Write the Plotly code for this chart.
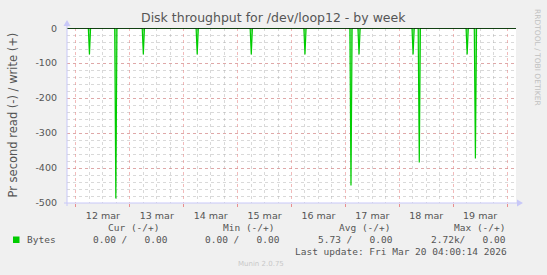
import plotly.graph_objects as go
from datetime import datetime, timedelta

# ---- data ----
range_start = "2026-03-11 20:00"
range_end = "2026-03-20 04:00"
# read samples (Bytes per second, read shown negative)
spike_times = [
    "2026-03-12 06:00", "2026-03-12 17:45", "2026-03-13 06:00", "2026-03-14 06:00",
    "2026-03-15 06:05", "2026-03-16 06:00", "2026-03-17 02:30", "2026-03-17 06:05",
    "2026-03-18 06:10", "2026-03-18 08:55", "2026-03-19 06:15", "2026-03-19 09:55",
]
spike_values = [-75, -487, -75, -75, -75, -75, -450, -75, -75, -384, -75, -373]
y_ticks = [0, -100, -200, -300, -400, -500]
legend_headers = ["Cur (-/+)", "Min (-/+)", "Avg (-/+)", "Max (-/+)"]
legend_values = ["0.00 /   0.00", "0.00 /   0.00", "5.73 /   0.00", "2.72k/   0.00"]
series_name = "Bytes"
last_update = "Last update: Fri Mar 20 04:00:14 2026"

# ---- build the line (zero baseline with spikes) ----
fmt = "%Y-%m-%d %H:%M"
half = timedelta(minutes=30)
xs = [range_start]
ys = [0]
for t, v in zip(spike_times, spike_values):
    d = datetime.strptime(t, fmt)
    xs += [(d - half).strftime(fmt), t, (d + half).strftime(fmt)]
    ys += [0, v, 0]
xs.append(range_end)
ys.append(0)

W, H = 547, 275
L, R, T, B = 67, 516, 28, 203

def px(x):
    return (x - L) / (R - L)

def py(y):
    return (B - y) / (B - T)

fig = go.Figure()
fig.add_trace(go.Scatter(x=xs, y=ys, mode="lines",
                         line=dict(color="#00cc00", width=1.2),
                         fill="tozeroy", fillcolor="rgba(0,204,0,0.45)",
                         hoverinfo="skip", showlegend=False))

grey = "#555555"
major_grid = "rgba(230,120,120,0.5)"
minor_grid = "rgba(170,170,170,0.45)"

fig.update_layout(
    width=W, height=H,
    margin=dict(l=L, r=W - R, t=T, b=H - B),
    paper_bgcolor="#f0f0f0", plot_bgcolor="#ffffff",
    showlegend=False,
    font=dict(family="DejaVu Sans", color=grey, size=9.5),
    xaxis=dict(
        type="date", range=[range_start, range_end],
        tick0="2026-03-12 00:00", dtick=86400000,
        tickformat="%d mar", ticklabelmode="period",
        showgrid=True, gridcolor=major_grid, griddash="dot", gridwidth=1,
        ticks="outside", ticklen=3, tickcolor="rgba(230,100,100,0.7)",
        ticklabelstandoff=1,
        minor=dict(dtick=21600000, showgrid=True, gridcolor=minor_grid,
                   griddash="dot", gridwidth=1, ticks=""),
        showline=False, zeroline=False, fixedrange=True,
        tickfont=dict(size=9.5, color=grey),
    ),
    yaxis=dict(
        range=[-500, 0.6], tickvals=y_ticks, ticktext=[str(v) for v in y_ticks],
        showgrid=True, gridcolor=major_grid, griddash="dot", gridwidth=1,
        minor=dict(dtick=20, showgrid=True, gridcolor=minor_grid,
                   griddash="dot", gridwidth=1),
        ticks="", ticklabelstandoff=9,
        showline=False, zeroline=False, fixedrange=True,
        tickfont=dict(size=9.5, color=grey),
    ),
)

axis_col = "#c8c8f8"
shapes = [
    # zero rule
    dict(type="line", xref="paper", yref="y", x0=0, x1=1, y0=0, y1=0,
         line=dict(color="#000000", width=1)),
    # left axis + arrow
    dict(type="line", xref="paper", yref="paper", x0=px(L), x1=px(L),
         y0=py(B + 3), y1=py(T - 3), line=dict(color=axis_col, width=1)),
    dict(type="path", xref="paper", yref="paper",
         path=f"M {px(L-3.5)} {py(T-2)} L {px(L+3.5)} {py(T-2)} L {px(L)} {py(T-8)} Z",
         fillcolor=axis_col, line=dict(width=0)),
    # bottom axis + arrow
    dict(type="line", xref="paper", yref="paper", x0=px(L - 3), x1=px(R + 2),
         y0=0, y1=0, line=dict(color=axis_col, width=1)),
    dict(type="path", xref="paper", yref="paper",
         path=f"M {px(R+1)} {py(B-3.5)} L {px(R+1)} {py(B+3.5)} L {px(R+7)} {py(B)} Z",
         fillcolor=axis_col, line=dict(width=0)),
    # legend colour box
    dict(type="rect", xref="paper", yref="paper",
         x0=px(13), x1=px(19.5), y0=py(243), y1=py(236.5),
         fillcolor="#00cc00", line=dict(width=0)),
]
fig.update_layout(shapes=shapes)

mono = "DejaVu Sans Mono"
ann = []
ann.append(dict(text="Disk throughput for /dev/loop12 - by week", x=px(273), y=py(18),
                font=dict(size=12.5, color=grey), xanchor="center", yanchor="middle"))
ann.append(dict(text="Pr second read (-) / write (+)", x=px(12), y=py(115.5),
                textangle=-90, font=dict(size=11.5, color=grey),
                xanchor="center", yanchor="middle"))
ann.append(dict(text="RRDTOOL / TOBI OETIKER", x=px(538), y=py(57),
                textangle=90, font=dict(size=7.5, color="#c0c0c0"),
                xanchor="center", yanchor="middle"))
header_x = [106, 221, 336.7, 451.7]
for h, x in zip(legend_headers, header_x):
    ann.append(dict(text=h, x=px(x), y=py(227.3), font=dict(family=mono, size=9.5, color=grey),
                    xanchor="left", yanchor="middle"))
ann.append(dict(text=series_name, x=px(25), y=py(239.7), font=dict(family=mono, size=9.5, color=grey),
                xanchor="left", yanchor="middle"))
value_x = [91, 203.3, 316, 429]
for v, x in zip(legend_values, value_x):
    ann.append(dict(text=v.replace(" ", "&nbsp;"), x=px(x), y=py(239.7),
                    font=dict(family=mono, size=9.5, color=grey),
                    xanchor="left", yanchor="middle"))
ann.append(dict(text=last_update.replace(" ", "&nbsp;"), x=px(509), y=py(251.7),
                font=dict(family=mono, size=9.5, color=grey), xanchor="right", yanchor="middle"))
ann.append(dict(text="Munin 2.0.75", x=px(261), y=py(263.7),
                font=dict(size=7, color="#c8c8c8"), xanchor="center", yanchor="middle"))
for a in ann:
    a.update(xref="paper", yref="paper", showarrow=False)
fig.update_layout(annotations=ann)

fig.write_html("out.html", config={"displayModeBar": False})
